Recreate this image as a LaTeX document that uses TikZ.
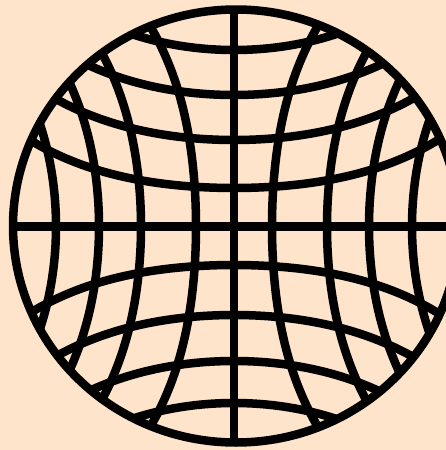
\documentclass[tikz,border=0pt]{standalone}
\definecolor{peach}{RGB}{254,228,203}
\begin{document}
\begin{tikzpicture}[x=1pt,y=-1pt,
  gridline/.style={line width=8.5pt, line join=round, draw=black}]
\fill[peach] (0,0) rectangle (446,450);
\useasboundingbox (0,0) rectangle (446,450);
\begin{scope}
  \clip (0,0) rectangle (446,450);
  \begin{scope}
    \clip (236,226) ellipse [x radius=223, y radius=216.5];
    % centre axes
    \draw[gridline] (234,-20) -- (234,470);
    \draw[gridline] (-20,226.5) -- (470,226.5);
    % vertical curves (bowing toward centre)
    \foreach \a/\K in {38/8.2, 93/10.6, 135/12.6, 178/14.5} {
      \draw[gridline] plot[domain=-2.4:2.4, samples=121]
        ({234 + \a + \K*\x*\x + 0.8*\x*\x*\x*\x}, {226.5 + 100*\x});
      \draw[gridline] plot[domain=-2.4:2.4, samples=121]
        ({234 - \a - \K*\x*\x - 0.8*\x*\x*\x*\x}, {226.5 + 100*\x});
    }
    % horizontal curves, upper half
    \foreach \b/\K in {38.5/8.2, 86.5/10.4, 131.5/12.4, 176.5/14.4} {
      \draw[gridline] plot[domain=-2.4:2.4, samples=121]
        ({234 + 100*\x}, {226.5 - \b - \K*\x*\x - 0.8*\x*\x*\x*\x});
    }
    % horizontal curves, lower half
    \foreach \b/\K in {38.5/8.2, 88.5/10.5, 134.5/12.6, 176.5/14.4} {
      \draw[gridline] plot[domain=-2.4:2.4, samples=121]
        ({234 + 100*\x}, {226.5 + \b + \K*\x*\x + 0.8*\x*\x*\x*\x});
    }
  \end{scope}
  % outer circle
  \draw[gridline] (236,226) ellipse [x radius=223, y radius=216.5];
\end{scope}
\end{tikzpicture}
\end{document}
